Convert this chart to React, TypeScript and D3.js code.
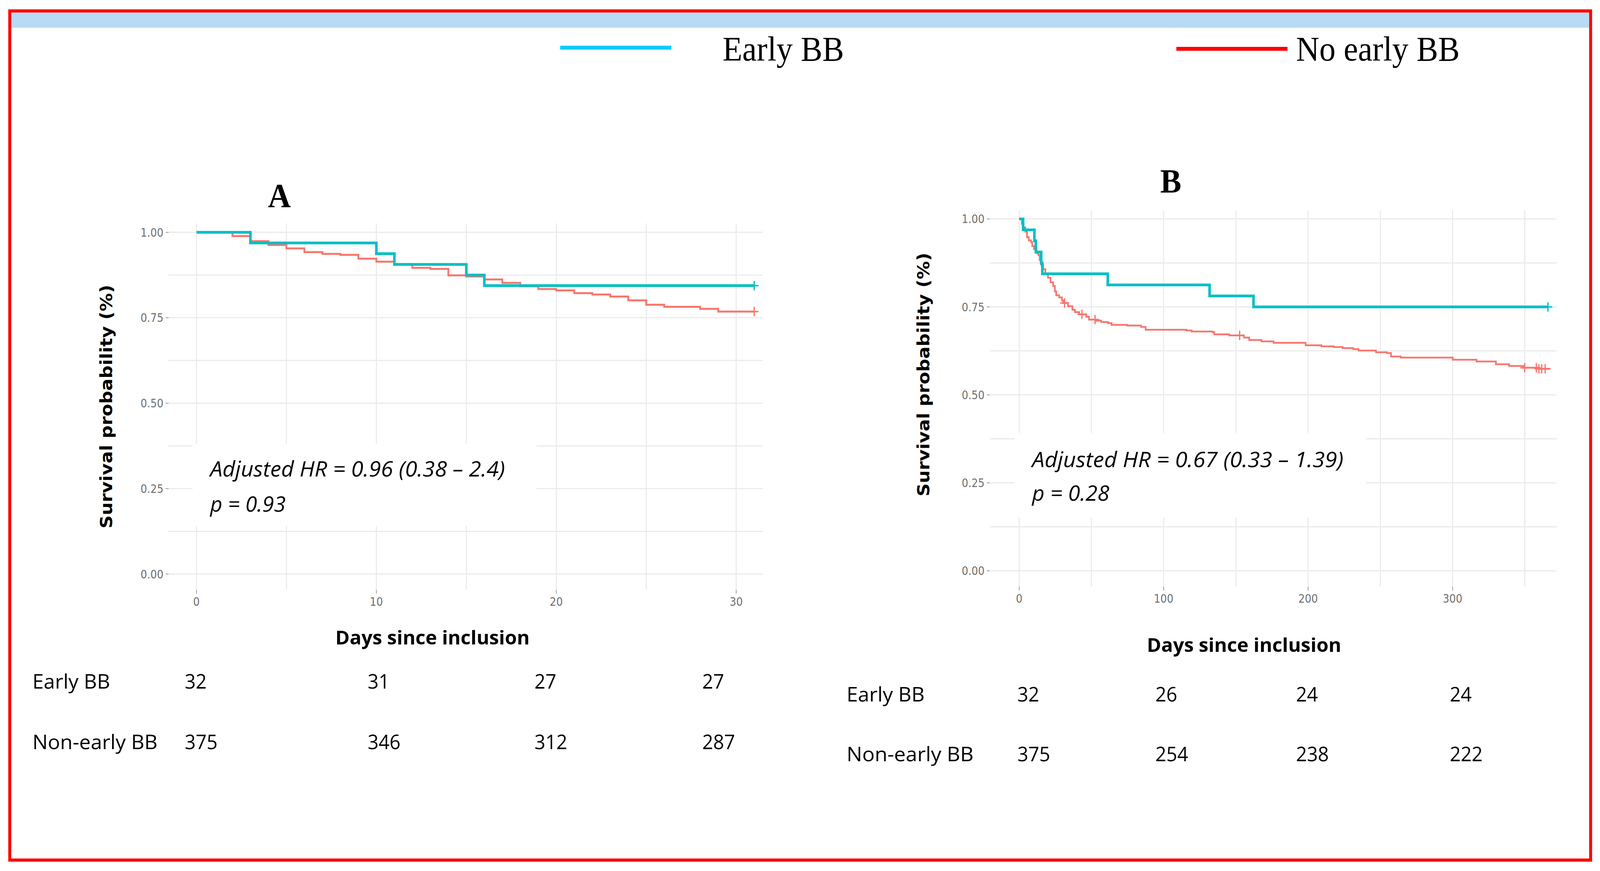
import * as d3 from "d3";

// ---- Panel A (30 days) ----
const aEarlyTimes = [0, 3, 10, 11, 15, 16];
const aEarlySurv = [1, 0.969, 0.9375, 0.906, 0.875, 0.844];
const aEarlyEnd = 31;
const aEarlyCensor = [31];

const aNonTimes = [0, 2, 3, 4, 5, 6, 7, 8, 9, 10, 11, 12, 13, 14, 15, 16, 17, 18, 19, 20, 21, 22, 23, 24, 25, 26, 28, 29];
const aNonSurv = [1, 0.989, 0.974, 0.963, 0.953, 0.942, 0.937, 0.934, 0.923, 0.914, 0.907, 0.896, 0.893, 0.874, 0.871, 0.862, 0.852, 0.842, 0.834, 0.83, 0.822, 0.818, 0.812, 0.801, 0.788, 0.782, 0.776, 0.768];
const aNonEnd = 31;
const aNonCensor = [31];

const aRiskTimes = [0, 10, 20, 30];
const aRiskEarly = [32, 31, 27, 27];
const aRiskNon = [375, 346, 312, 287];

// ---- Panel B (1 year) ----
const bEarlyTimes = [0, 2.7, 10.5, 11.5, 15.2, 16, 61.3, 131.8, 162.2];
const bEarlySurv = [1, 0.969, 0.938, 0.906, 0.875, 0.844, 0.8125, 0.781, 0.75];
const bEarlyEnd = 366;
const bEarlyCensor = [366];

const bNonTimes = [0, 1.8, 3, 4.2, 5.4, 6.6, 8.2, 9, 10.3, 12, 13.3, 14.2, 15.1, 16.6, 18.1, 19.9, 21.7, 23.5, 24.7, 25.6, 27.7, 29.6, 30.5, 33.8, 36.8, 38.6, 41.6, 46.4, 48.3, 53.5, 56.7, 61.5, 63.9, 74.8, 84.4, 87.5, 115.8, 119.4, 133.9, 135, 145.4, 155.6, 159.2, 167.7, 176.1, 198.3, 209.2, 217.8, 223.9, 231.2, 234.9, 247, 254.4, 257.4, 264.1, 300.1, 316.6, 330, 339.1, 349, 358.6];
const bNonSurv = [1, 0.986, 0.976, 0.964, 0.948, 0.939, 0.934, 0.923, 0.914, 0.903, 0.897, 0.883, 0.87, 0.857, 0.844, 0.833, 0.82, 0.809, 0.794, 0.783, 0.777, 0.768, 0.761, 0.752, 0.742, 0.735, 0.729, 0.722, 0.714, 0.711, 0.707, 0.704, 0.699, 0.697, 0.693, 0.685, 0.683, 0.68, 0.678, 0.672, 0.669, 0.663, 0.656, 0.652, 0.648, 0.641, 0.638, 0.636, 0.633, 0.63, 0.626, 0.621, 0.619, 0.609, 0.606, 0.6, 0.595, 0.587, 0.582, 0.577, 0.574];
const bNonEnd = 367.8;
const bNonCensor = [31.4, 43.4, 52.5, 152.6, 349.9, 358, 359.8, 361.7, 364.1];

const bRiskTimes = [0, 100, 200, 300];
const bRiskEarly = [32, 26, 24, 24];
const bRiskNon = [375, 254, 238, 222];

const yGrid = d3.range(0, 1.0001, 0.125);
const yTicks = [0, 0.25, 0.5, 0.75, 1];

const CYAN = "#00BFC4";
const SALMON = "#F8766D";
const GRID = "#ebebeb";
const SANS = "'Open Sans', 'Noto Sans', sans-serif";
const NARROW = "'Liberation Sans Narrow', 'DejaVu Sans Condensed', 'Liberation Sans', sans-serif";
const SERIF = "'Liberation Serif', 'DejaVu Serif', serif";

type Curve = { times: number[]; surv: number[]; end: number; censor: number[]; color: string; width: number };

interface PanelProps {
  title: string;
  titleX: number;
  titleY: number;
  xDomain: [number, number];
  xRange: [number, number];
  yDomain: [number, number];
  yRange: [number, number];
  xGrid: number[];
  xTicks: number[];
  curves: Curve[];
  box: { x: number; y: number; w: number; h: number };
  hrText: string;
  hrLen: number;
  hrY: number;
  pText: string;
  pLen: number;
  pY: number;
  textX: number;
  yLabelX: number;
  yLabelY: number;
  xLabelX: number;
  xLabelY: number;
  riskTimes: number[];
  riskCols: number[];
  riskEarly: number[];
  riskNon: number[];
  riskLabelX: number;
  riskRowY: [number, number];
  riskLabelLen: [number, number];
}

function Panel(p: PanelProps) {
  const x = d3.scaleLinear().domain(p.xDomain).range(p.xRange);
  const y = d3.scaleLinear().domain(p.yDomain).range(p.yRange);
  const riskX = d3.scaleLinear().domain(p.riskTimes).range(p.riskCols);
  const [x0, x1] = p.xRange;
  const [yb, yt] = p.yRange;

  const line = d3
    .line<[number, number]>()
    .x((d) => x(d[0]))
    .y((d) => y(d[1]))
    .curve(d3.curveStepAfter);

  const survAt = (c: Curve, t: number) => c.surv[Math.max(0, d3.bisectRight(c.times, t) - 1)];

  return (
    <g>
      <text x={p.titleX} y={p.titleY} textAnchor="middle" fontFamily={SERIF} fontWeight="bold" fontSize={86}>
        {p.title}
      </text>

      {/* grid */}
      {yGrid.map((v) => (
        <line key={"h" + v} x1={x0} x2={x1} y1={y(v)} y2={y(v)} stroke={GRID} strokeWidth={3} />
      ))}
      {p.xGrid.map((v) => (
        <line key={"v" + v} x1={x(v)} x2={x(v)} y1={yb} y2={yt} stroke={GRID} strokeWidth={3} />
      ))}

      {/* white annotation box */}
      <rect x={p.box.x} y={p.box.y} width={p.box.w} height={p.box.h} fill="#fff" />

      {/* y axis ticks */}
      {yTicks.map((v) => (
        <g key={"yt" + v}>
          <line x1={x0 - 8} x2={x0} y1={y(v)} y2={y(v)} stroke="#999" strokeWidth={2} />
          <text x={x0 - 14} y={y(v)} dy="0.35em" textAnchor="end" fontFamily={NARROW} fontSize={31} fill="#6e6e6e">
            {d3.format(".2f")(v)}
          </text>
        </g>
      ))}
      {/* x axis ticks */}
      {p.xTicks.map((v) => (
        <g key={"xt" + v}>
          <line x1={x(v)} x2={x(v)} y1={yb} y2={yb + 10} stroke="#999" strokeWidth={2} />
          <text x={x(v)} y={yb + 41} textAnchor="middle" fontFamily={NARROW} fontSize={31} fill="#6e6e6e">
            {v}
          </text>
        </g>
      ))}

      {/* curves */}
      {p.curves.map((c, i) => {
        const pts: [number, number][] = c.times.map((t, j) => [t, c.surv[j]] as [number, number]);
        pts.push([c.end, c.surv[c.surv.length - 1]]);
        return (
          <g key={"c" + i}>
            <path d={line(pts) || ""} fill="none" stroke={c.color} strokeWidth={c.width} />
            {c.censor.map((t, k) => {
              const cx = x(t);
              const cy = y(survAt(c, t));
              return (
                <g key={k} stroke={c.color} strokeWidth={3.5}>
                  <line x1={cx - 12} x2={cx + 12} y1={cy} y2={cy} />
                  <line x1={cx} x2={cx} y1={cy - 12} y2={cy + 12} />
                </g>
              );
            })}
          </g>
        );
      })}

      {/* annotation */}
      <text x={p.textX} y={p.hrY} fontFamily={SANS} fontStyle="italic" fontSize={54} textLength={p.hrLen} lengthAdjust="spacingAndGlyphs">
        {p.hrText}
      </text>
      <text x={p.textX} y={p.pY} fontFamily={SANS} fontStyle="italic" fontSize={54} textLength={p.pLen} lengthAdjust="spacingAndGlyphs">
        {p.pText}
      </text>

      {/* axis titles */}
      <text
        transform={`translate(${p.yLabelX},${p.yLabelY}) rotate(-90)`}
        textAnchor="middle"
        fontFamily="'DejaVu Sans', sans-serif"
        fontWeight="bold"
        fontSize={46}
        textLength={624}
        lengthAdjust="spacingAndGlyphs"
      >
        Survival probability (%)
      </text>
      <text x={p.xLabelX} y={p.xLabelY} textAnchor="middle" fontFamily={SANS} fontWeight="bold" fontSize={49} textLength={528} lengthAdjust="spacingAndGlyphs">
        Days since inclusion
      </text>

      {/* risk table */}
      <text x={p.riskLabelX} y={p.riskRowY[0]} fontFamily={SANS} fontSize={52} textLength={p.riskLabelLen[0]} lengthAdjust="spacingAndGlyphs">
        Early BB
      </text>
      <text x={p.riskLabelX} y={p.riskRowY[1]} fontFamily={SANS} fontSize={52} textLength={p.riskLabelLen[1]} lengthAdjust="spacingAndGlyphs">
        Non-early BB
      </text>
      {p.riskTimes.map((t, i) => (
        <g key={"r" + t}>
          <text x={riskX(t)} y={p.riskRowY[0]} fontFamily={SANS} fontSize={52}>
            {p.riskEarly[i]}
          </text>
          <text x={riskX(t)} y={p.riskRowY[1]} fontFamily={SANS} fontSize={52}>
            {p.riskNon[i]}
          </text>
        </g>
      ))}
    </g>
  );
}

export default function App() {
  const W = 4347;
  const H = 2230;
  return (
    <svg
      viewBox={`0 0 ${W} ${H}`}
      preserveAspectRatio="none"
      style={{ position: "absolute", left: 0, top: 0, width: "100vw", height: "100vh", background: "#fff", display: "block" }}
    >
      <rect x={0} y={0} width={W} height={H} fill="#fff" />
      {/* frame */}
      <rect x={31} y={32} width={4286} height={39} fill="#b7dbf4" />
      <rect x={26.5} y={28} width={4295} height={2174} fill="none" stroke="#ff0000" strokeWidth={8} />

      {/* legend */}
      <rect x={1522} y={117} width={302} height={10} fill="#00ccff" />
      <text x={1963} y={155} fontFamily={SERIF} fontSize={88}>
        Early BB
      </text>
      <rect x={3196} y={120} width={302} height={10} fill="#ff0000" />
      <text x={3521} y={155} fontFamily={SERIF} fontSize={88}>
        No early BB
      </text>

      <Panel
        title="A"
        titleX={759}
        titleY={530}
        xDomain={[-1.55, 31.47]}
        xRange={[458, 2072]}
        yDomain={[-0.046, 1.026]}
        yRange={[1510, 572]}
        xGrid={d3.range(0, 31, 5)}
        xTicks={[0, 10, 20, 30]}
        curves={[
          { times: aNonTimes, surv: aNonSurv, end: aNonEnd, censor: aNonCensor, color: SALMON, width: 5 },
          { times: aEarlyTimes, surv: aEarlySurv, end: aEarlyEnd, censor: aEarlyCensor, color: CYAN, width: 7 },
        ]}
        box={{ x: 523, y: 1136, w: 935, h: 211 }}
        hrText="Adjusted HR = 0.96 (0.38 – 2.4)"
        hrLen={801}
        hrY={1220}
        pText="p = 0.93"
        pLen={205}
        pY={1310}
        textX={571}
        yLabelX={305}
        yLabelY={1041}
        xLabelX={1175}
        xLabelY={1650}
        riskTimes={aRiskTimes}
        riskCols={[502, 999, 1452, 1908]}
        riskEarly={aRiskEarly}
        riskNon={aRiskNon}
        riskLabelX={88}
        riskRowY={[1763, 1918]}
        riskLabelLen={[211, 340]}
      />

      <Panel
        title="B"
        titleX={3181}
        titleY={493}
        xDomain={[-20.4, 372]}
        xRange={[2689, 4229]}
        yDomain={[-0.045, 1.025]}
        yRange={[1502, 538]}
        xGrid={d3.range(0, 351, 50)}
        xTicks={[0, 100, 200, 300]}
        curves={[
          { times: bNonTimes, surv: bNonSurv, end: bNonEnd, censor: bNonCensor, color: SALMON, width: 4.5 },
          { times: bEarlyTimes, surv: bEarlySurv, end: bEarlyEnd, censor: bEarlyCensor, color: CYAN, width: 7 },
        ]}
        box={{ x: 2756, y: 1108, w: 955, h: 218 }}
        hrText="Adjusted HR = 0.67 (0.33 – 1.39)"
        hrLen={846}
        hrY={1196}
        pText="p = 0.28"
        pLen={210}
        pY={1282}
        textX={2804}
        yLabelX={2525}
        yLabelY={959}
        xLabelX={3380}
        xLabelY={1669}
        riskTimes={bRiskTimes}
        riskCols={[2764, 3139, 3521, 3939]}
        riskEarly={bRiskEarly}
        riskNon={bRiskNon}
        riskLabelX={2300}
        riskRowY={[1796, 1949]}
        riskLabelLen={[212, 345]}
      />
    </svg>
  );
}
